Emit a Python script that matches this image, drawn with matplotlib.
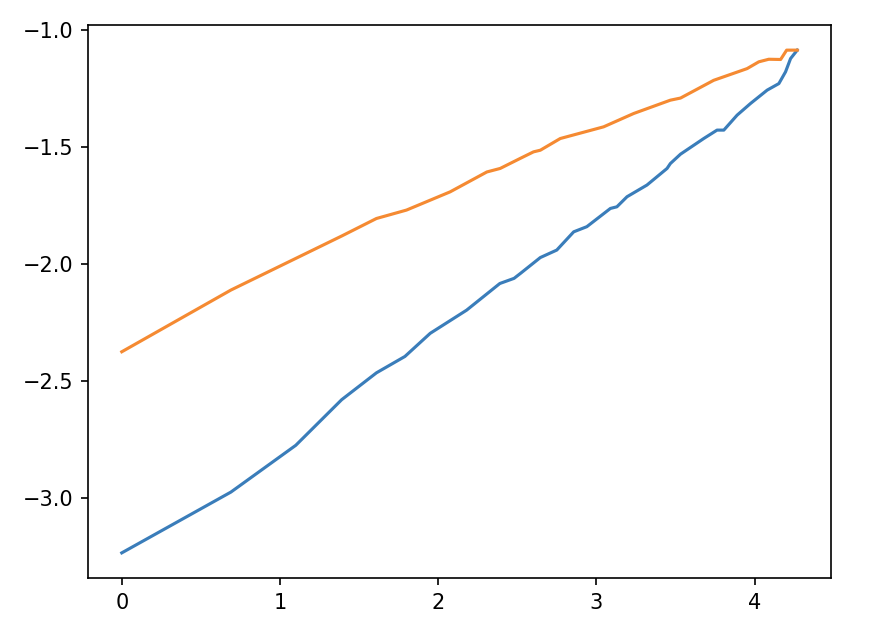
import matplotlib
matplotlib.use("Agg")
import matplotlib.pyplot as plt

# valores (x, y) para cada serie
blue_x = [0.00, 0.69, 1.10, 1.39, 1.61, 1.79, 1.95, 2.18, 2.39, 2.48, 2.52,
          2.646, 2.75, 2.857, 2.94, 3.089, 3.13, 3.194, 3.32, 3.447, 3.468,
          3.532, 3.679, 3.763, 3.806, 3.89, 3.975, 4.08, 4.154, 4.196, 4.228, 4.27]
blue_y = [-3.235, -2.975, -2.775, -2.58, -2.465, -2.395, -2.296, -2.197, -2.083,
          -2.061, -2.04, -1.972, -1.94, -1.862, -1.84, -1.762, -1.755, -1.712,
          -1.662, -1.591, -1.57, -1.53, -1.463, -1.427, -1.427, -1.363, -1.313,
          -1.256, -1.228, -1.178, -1.121, -1.085]

orange_x = [0.00, 0.69, 1.39, 1.61, 1.80, 2.076, 2.308, 2.392, 2.519, 2.603,
            2.646, 2.772, 3.046, 3.236, 3.468, 3.532, 3.742, 3.953, 4.027,
            4.09, 4.165, 4.203, 4.27]
orange_y = [-2.375, -2.111, -1.88, -1.805, -1.769, -1.691, -1.606, -1.591,
            -1.548, -1.52, -1.513, -1.463, -1.413, -1.356, -1.299, -1.29,
            -1.214, -1.164, -1.135, -1.124, -1.125, -1.085, -1.085]

fig = plt.figure(figsize=(5.96, 4.2), dpi=150)
ax = fig.add_axes([88 / 894, 52 / 630, 743 / 894, 553 / 630])
ax.plot(blue_x, blue_y, color='#3a7dba')
ax.plot(orange_x, orange_y, color='#f58a32')
ax.set_yticks([-3.0, -2.5, -2.0, -1.5, -1.0])
fig.savefig("out.png", dpi=150)
